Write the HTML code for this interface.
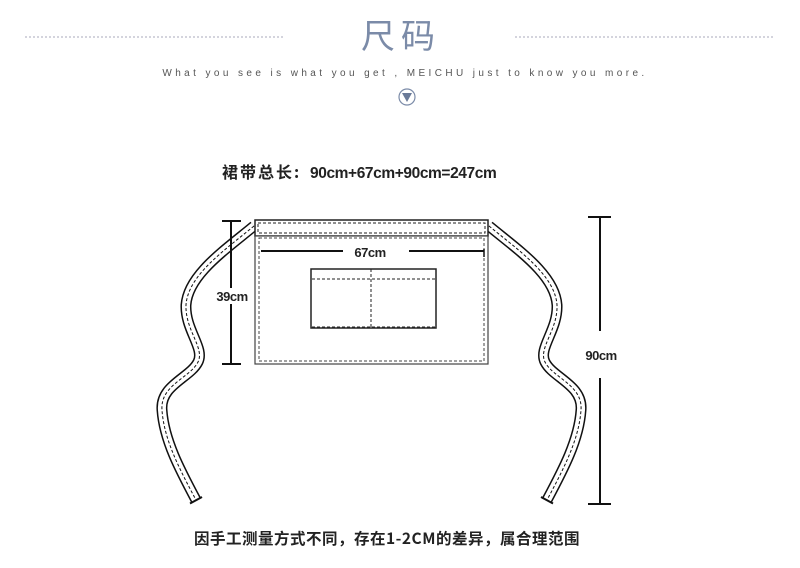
<!DOCTYPE html>
<html><head><meta charset="utf-8"><style>
body{margin:0;width:800px;height:568px;background:#fff;overflow:hidden;font-family:"Liberation Sans","Noto Sans CJK SC",sans-serif;}
</style></head><body>
<svg width="800" height="568" viewBox="0 0 800 568" xmlns="http://www.w3.org/2000/svg" style="position:absolute;left:0;top:0">
<line x1="25" y1="37" x2="285" y2="37" stroke="#aab" stroke-dasharray="2,2"/>
<line x1="515" y1="37" x2="775" y2="37" stroke="#aab" stroke-dasharray="2,2"/>
<text x="401" y="48" text-anchor="middle" font-size="34" fill="#7b8ba8" font-family="Noto Sans CJK SC,sans-serif" letter-spacing="6">尺码</text>
<text x="405" y="76" text-anchor="middle" font-size="10" fill="#555" letter-spacing="3.4">What you see is what you get , MEICHU  just to know you more.</text>
<circle cx="407" cy="97" r="8" fill="none" stroke="#7b8ba8" stroke-width="1.2"/>
<path d="M402 93 L412 93 L407 102 Z" fill="#6a7a98"/>
<text x="222" y="178" font-size="16" font-weight="bold" fill="#222" font-family="Noto Sans CJK SC,sans-serif" letter-spacing="2">裙带总长:</text>
<text x="310" y="178" font-size="15.5" font-weight="bold" fill="#222" letter-spacing="-0.4">90cm+67cm+90cm=247cm</text>
<defs>
<g id="strap" fill="none" stroke-linejoin="round">
<path d="M254 226 C225 250 188 275 186 305 C185 330 205 348 198 362 C190 378 160 385 162 410 C164 440 180 470 196 500" stroke="#111" stroke-width="11"/>
<path d="M254 226 C225 250 188 275 186 305 C185 330 205 348 198 362 C190 378 160 385 162 410 C164 440 180 470 196 500" stroke="#fff" stroke-width="8"/>
<path d="M254 226 C225 250 188 275 186 305 C185 330 205 348 198 362 C190 378 160 385 162 410 C164 440 180 470 196 500" stroke="#111" stroke-width="1" stroke-dasharray="3,2"/>
<line x1="190" y1="503.5" x2="202" y2="497" stroke="#111" stroke-width="2"/>
</g>
</defs>
<use href="#strap"/>
<use href="#strap" transform="translate(743,0) scale(-1,1)"/>
<rect x="255" y="220" width="233" height="16" fill="#fff" stroke="#222" stroke-width="1.5"/>
<rect x="258" y="223" width="227" height="10" fill="none" stroke="#222" stroke-width="1" stroke-dasharray="3,2"/>
<rect x="255" y="236" width="233" height="128" fill="#fff" stroke="#444" stroke-width="1.2"/>
<rect x="259" y="238" width="225" height="123" fill="none" stroke="#444" stroke-width="1" stroke-dasharray="3,2"/>
<rect x="311" y="269" width="125" height="59" fill="#fff" stroke="#222" stroke-width="1.5"/>
<line x1="312" y1="279" x2="435" y2="279" stroke="#222" stroke-dasharray="3,2"/>
<line x1="371" y1="269" x2="371" y2="328" stroke="#222" stroke-dasharray="3,2"/>
<line x1="312" y1="327" x2="435" y2="327" stroke="#222" stroke-dasharray="3,2"/>
<line x1="261" y1="251" x2="343" y2="251" stroke="#111" stroke-width="2"/>
<line x1="409" y1="251" x2="484" y2="251" stroke="#111" stroke-width="2"/>
<line x1="484" y1="249" x2="484" y2="257" stroke="#111" stroke-width="1.5"/>
<text x="370" y="257" text-anchor="middle" font-size="13" font-weight="bold" fill="#222" letter-spacing="-0.5">67cm</text>
<line x1="231" y1="220" x2="231" y2="364" stroke="#111" stroke-width="2"/>
<line x1="222" y1="221" x2="241" y2="221" stroke="#111" stroke-width="2"/>
<line x1="222" y1="364" x2="241" y2="364" stroke="#111" stroke-width="2"/>
<rect x="214" y="288" width="36" height="16" fill="#fff"/>
<text x="232" y="301" text-anchor="middle" font-size="13" font-weight="bold" fill="#222" letter-spacing="-0.5">39cm</text>
<line x1="600" y1="217" x2="600" y2="331" stroke="#111" stroke-width="2"/>
<line x1="600" y1="378" x2="600" y2="504" stroke="#111" stroke-width="2"/>
<line x1="588" y1="217" x2="611" y2="217" stroke="#111" stroke-width="2"/>
<line x1="588" y1="504" x2="611" y2="504" stroke="#111" stroke-width="2"/>
<text x="601" y="360" text-anchor="middle" font-size="13" font-weight="bold" fill="#222" letter-spacing="-0.5">90cm</text>
<text x="387" y="544" text-anchor="middle" font-size="15.5" font-weight="bold" fill="#222" font-family="Noto Sans CJK SC,sans-serif" letter-spacing="0.5">因手工测量方式不同，存在1-2CM的差异，属合理范围</text>
</svg>
</body></html>
